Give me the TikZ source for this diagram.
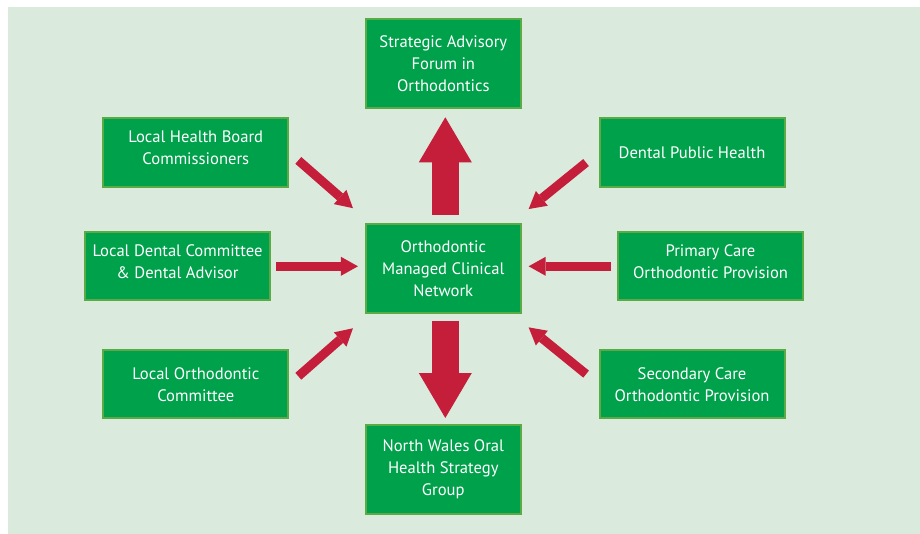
\documentclass[tikz,border=0pt]{standalone}
\usepackage{fontspec}
\setmainfont{PT Sans}
\usetikzlibrary{arrows.meta}

\definecolor{boxgreen}{HTML}{00A14B}
\definecolor{edgegreen}{HTML}{5AAA46}
\definecolor{panelgreen}{HTML}{DAEADD}
\definecolor{arrowred}{HTML}{C41E3A}

\tikzset{
  orgbox/.style={draw=edgegreen, line width=2pt, fill=boxgreen, text=white,
    align=center, font=\fontsize{16.6}{22}\selectfont, inner sep=0pt},
  smallbox/.style={orgbox, minimum width=185pt, minimum height=68.4pt},
  bigbox/.style={orgbox, minimum width=154.7pt, minimum height=89pt},
  raised/.style={text depth=9pt},
  feed/.style={arrowred, line width=9pt,
    -{Triangle[width=19pt, length=17pt, line width=0pt]}},
  flow/.style={arrowred, line width=27pt,
    -{Triangle[width=53pt, length=45pt, line width=0pt]}},
}

\begin{document}
\begin{tikzpicture}[x=1pt, y=-1pt]
\useasboundingbox (0,0) rectangle (920,534);
% Panel
\fill[panelgreen] (8,7) rectangle (920,534);

% Network in the middle
\node[bigbox] (omcn) at (443.3,268.2) {Orthodontic\\Managed Clinical\\Network};

% Above and below
\node[bigbox] (safo) at (443.3,63.8) {Strategic Advisory\\Forum in\\Orthodontics};
\node[bigbox] (nwohsg) at (443.3,469.5) {North Wales Oral\\Health Strategy\\Group};

% Left column
\node[smallbox, raised] (lhb) at (195.8,152.5) {Local Health Board\\Commissioners};
\node[smallbox, raised] (ldc) at (177.5,266.3) {Local Dental Committee\\\& Dental Advisor};
\node[smallbox] (loc) at (195.8,384.2) {Local Orthodontic\\Committee};

% Right column
\node[smallbox] (dph) at (692,152.5) {Dental Public Health};
\node[smallbox, raised] (pcop) at (710.5,266.3) {Primary Care\\Orthodontic Provision};
\node[smallbox] (scop) at (692,384.2) {Secondary Care\\Orthodontic Provision};

% Inputs to the network
\draw[feed, shorten <=12pt, shorten >=16pt] (lhb.east) -- ([yshift=4pt]omcn.north west);
\draw[feed, shorten <=5pt, shorten >=7pt] (ldc.east) -- (ldc.east -| omcn.west);
\draw[feed, shorten <=12pt, shorten >=16pt] (loc.east) -- ([yshift=-4pt]omcn.south west);
\draw[feed, shorten <=16pt, shorten >=9pt] (dph.west) -- ([yshift=8pt]omcn.north east);
\draw[feed, shorten <=6pt, shorten >=7pt] (pcop.west) -- (pcop.west -| omcn.east);
\draw[feed, shorten <=16pt, shorten >=9pt] (scop.west) -- ([yshift=-8pt]omcn.south east);

% Outputs
\draw[flow, shorten <=8pt, shorten >=8pt] ([xshift=2pt]omcn.north) -- ([xshift=2pt]safo.south);
\draw[flow, shorten <=7pt, shorten >=6pt] ([xshift=2pt]omcn.south) -- ([xshift=2pt]nwohsg.north);
\end{tikzpicture}
\end{document}
